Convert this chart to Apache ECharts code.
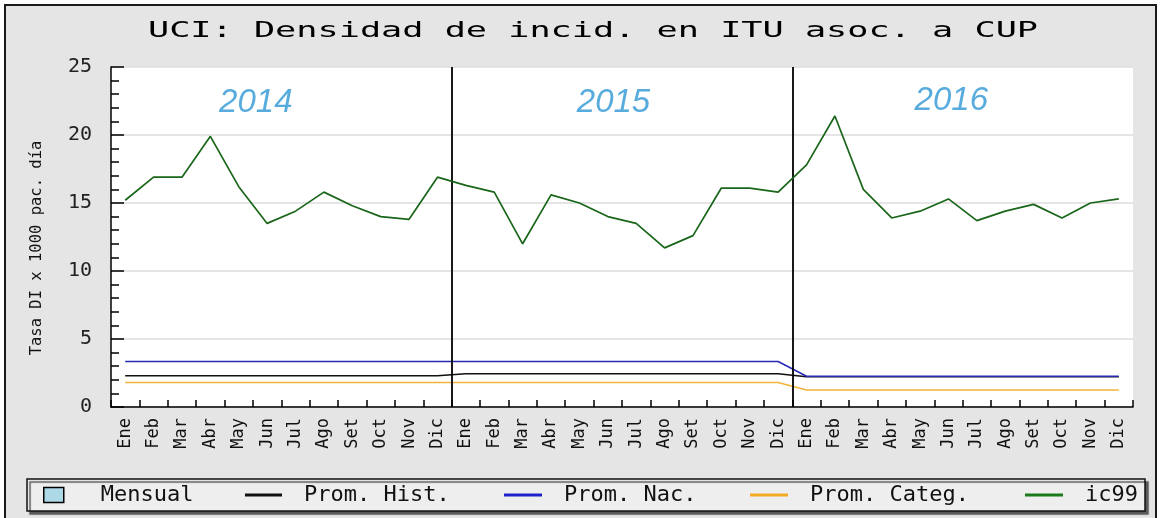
<!DOCTYPE html>
<html>
<head>
<meta charset="utf-8">
<script src="https://cdn.jsdelivr.net/npm/echarts@6/dist/echarts.min.js"></script>
<style>
  html, body { margin: 0; padding: 0; background: #ffffff; }
  #chart { width: 1161px; height: 518px; }
</style>
</head>
<body>
<div id="chart"></div>
<script>
// ---- data ----
const monthNames = ['Ene', 'Feb', 'Mar', 'Abr', 'May', 'Jun', 'Jul', 'Ago', 'Set', 'Oct', 'Nov', 'Dic'];
const years = ['2014', '2015', '2016'];
const categories = years.flatMap(() => monthNames);

const mensual = [];
const promHist = [
  2.30, 2.30, 2.30, 2.30, 2.30, 2.30, 2.30, 2.30, 2.30, 2.30, 2.30, 2.30,
  2.45, 2.45, 2.45, 2.45, 2.45, 2.45, 2.45, 2.45, 2.45, 2.45, 2.45, 2.45,
  2.22, 2.22, 2.22, 2.22, 2.22, 2.22, 2.22, 2.22, 2.22, 2.22, 2.22, 2.22
];
const promNac = [
  3.35, 3.35, 3.35, 3.35, 3.35, 3.35, 3.35, 3.35, 3.35, 3.35, 3.35, 3.35,
  3.35, 3.35, 3.35, 3.35, 3.35, 3.35, 3.35, 3.35, 3.35, 3.35, 3.35, 3.35,
  2.26, 2.26, 2.26, 2.26, 2.26, 2.26, 2.26, 2.26, 2.26, 2.26, 2.26, 2.26
];
const promCateg = [
  1.80, 1.80, 1.80, 1.80, 1.80, 1.80, 1.80, 1.80, 1.80, 1.80, 1.80, 1.80,
  1.80, 1.80, 1.80, 1.80, 1.80, 1.80, 1.80, 1.80, 1.80, 1.80, 1.80, 1.80,
  1.25, 1.25, 1.25, 1.25, 1.25, 1.25, 1.25, 1.25, 1.25, 1.25, 1.25, 1.25
];
const ic99 = [
  15.2, 16.9, 16.9, 19.9, 16.2, 13.5, 14.4, 15.8, 14.8, 14.0, 13.8, 16.9,
  16.3, 15.8, 12.0, 15.6, 15.0, 14.0, 13.5, 11.7, 12.6, 16.1, 16.1, 15.8,
  17.8, 21.4, 16.0, 13.9, 14.4, 15.3, 13.7, 14.4, 14.9, 13.9, 15.0, 15.3
];
const yTicks = { min: 0, max: 25, step: 5 };

// ---- annotation placement (month index, rate) ----
const yearTagAnchor = [[5.1, 22.4], [17.7, 22.4], [29.6, 22.55]];
const yearBreaks = years.slice(1).map((_, i) => (i + 1) * monthNames.length);

const MONO = '"DejaVu Sans Mono", monospace';
const titleText = 'UCI: Densidad de incid. en ITU asoc. a CUP';

const legendItems = [
  { name: 'Mensual',      left: 43,   w: 20, h: 15, gap: 32, color: '#add8e6' },
  { name: 'Prom. Hist.',  left: 245,  w: 37, h: 3,  gap: 17, color: '#111111' },
  { name: 'Prom. Nac.',   left: 504,  w: 38, h: 3,  gap: 17, color: '#1f22cc' },
  { name: 'Prom. Categ.', left: 750,  w: 38, h: 3,  gap: 17, color: '#f5aa26' },
  { name: 'ic99',         left: 1025, w: 38, h: 3,  gap: 17, color: '#1b7a1b' }
];

const chart = echarts.init(document.getElementById('chart'), null, { renderer: 'canvas' });

function lineSeries(name, data, color, width, z) {
  return {
    name, type: 'line', data, xAxisIndex: 0, yAxisIndex: 0,
    showSymbol: false, symbol: 'none', z,
    lineStyle: { color, width }, itemStyle: { color },
    emphasis: { disabled: true }, silent: true, animation: false
  };
}

const option = {
  animation: false,
  backgroundColor: 'transparent',
  graphic: [
    {
      type: 'rect', z: -100, silent: true,
      shape: { x: 5, y: 5, width: 1151, height: 540 },
      style: { fill: '#e5e5e5', stroke: '#1a1a1a', lineWidth: 2 }
    },
    {
      type: 'rect', z: -50, silent: true,
      shape: { x: 27, y: 479, width: 1118, height: 32 },
      style: {
        fill: '#eeeeee', stroke: '#111111', lineWidth: 1.5,
        shadowColor: '#5a5a5a', shadowOffsetX: 3, shadowOffsetY: 3, shadowBlur: 1
      }
    },
    {
      type: 'text', silent: true, x: 593, y: 31, scaleX: 1.6, scaleY: 1,
      style: {
        text: titleText, font: '22px ' + MONO, fill: '#000000',
        textAlign: 'center', textVerticalAlign: 'middle'
      }
    }
  ],
  legend: legendItems.map(l => ({
    data: [{
      name: l.name, icon: 'rect',
      itemStyle: l.name === 'Mensual'
        ? { color: l.color, borderColor: '#000', borderWidth: 1.5 }
        : { color: l.color, borderWidth: 0 }
    }],
    left: l.left, top: 484, padding: 0,
    itemWidth: l.w, itemHeight: l.h, selectedMode: false,
    textStyle: { fontFamily: MONO, fontSize: 22, color: '#111111', padding: [0, 0, 0, l.gap] }
  })),
  grid: {
    left: 111, right: 28, top: 67, bottom: 111,
    show: true, backgroundColor: '#ffffff', borderWidth: 0
  },
  xAxis: [
    {
      type: 'category', data: categories, boundaryGap: true,
      axisLine: { show: true, lineStyle: { color: '#000', width: 1.5 } },
      axisTick: { show: true, inside: true, length: 7, interval: 0, lineStyle: { color: '#000', width: 1.5 } },
      axisLabel: {
        interval: 0, rotate: 90, margin: 11,
        fontFamily: MONO, fontSize: 17, color: '#111111'
      },
      splitLine: { show: false }
    },
    {
      type: 'value', min: 0, max: categories.length, show: false,
      splitLine: { show: false }
    }
  ],
  yAxis: {
    type: 'value', min: yTicks.min, max: yTicks.max, interval: yTicks.step,
    name: 'Tasa DI x 1000 pac. día', nameLocation: 'middle', nameGap: 66, nameRotate: 90,
    nameTextStyle: { fontFamily: MONO, fontSize: 15.5, color: '#111111', padding: [0, 22, 0, 0] },
    axisLine: { show: true, lineStyle: { color: '#000', width: 1.5 } },
    axisTick: { show: true, inside: true, length: 13, lineStyle: { color: '#000', width: 1.5 } },
    minorTick: { show: true, splitNumber: 5, length: 8, lineStyle: { color: '#000', width: 1.5 } },
    axisLabel: { margin: 19, fontFamily: MONO, fontSize: 20, color: '#222222' },
    splitLine: { show: true, lineStyle: { color: '#dcdcdc', width: 1.5 } }
  },
  series: [
    {
      name: 'Mensual', type: 'bar', data: mensual,
      itemStyle: { color: '#add8e6', borderColor: '#000', borderWidth: 1.5 }
    },
    lineSeries('Prom. Hist.', promHist, '#111111', 1.6, 3),
    lineSeries('Prom. Nac.', promNac, '#2a2ab8', 1.6, 4),
    lineSeries('Prom. Categ.', promCateg, '#f2b43a', 1.6, 3),
    lineSeries('ic99', ic99, '#1a661a', 1.7, 5),
    {
      name: 'yearBreaks', type: 'line', data: [], xAxisIndex: 1, yAxisIndex: 0, silent: true,
      markLine: {
        symbol: 'none', silent: true, animation: false,
        label: { show: false },
        lineStyle: { color: '#000', type: 'solid', width: 1.8 },
        data: yearBreaks.map(v => ({ xAxis: v }))
      }
    },
    {
      name: 'yearTags', type: 'scatter', xAxisIndex: 1, yAxisIndex: 0, silent: true,
      symbolSize: 0,
      data: years.map((y, i) => ({ name: y, value: yearTagAnchor[i] })),
      label: {
        show: true, position: 'inside', formatter: '{b}',
        fontFamily: '"Liberation Sans", Arial, sans-serif', fontStyle: 'italic',
        fontSize: 33, color: '#2e96d4'
      }
    }
  ]
};

chart.setOption(option);
</script>
</body>
</html>
